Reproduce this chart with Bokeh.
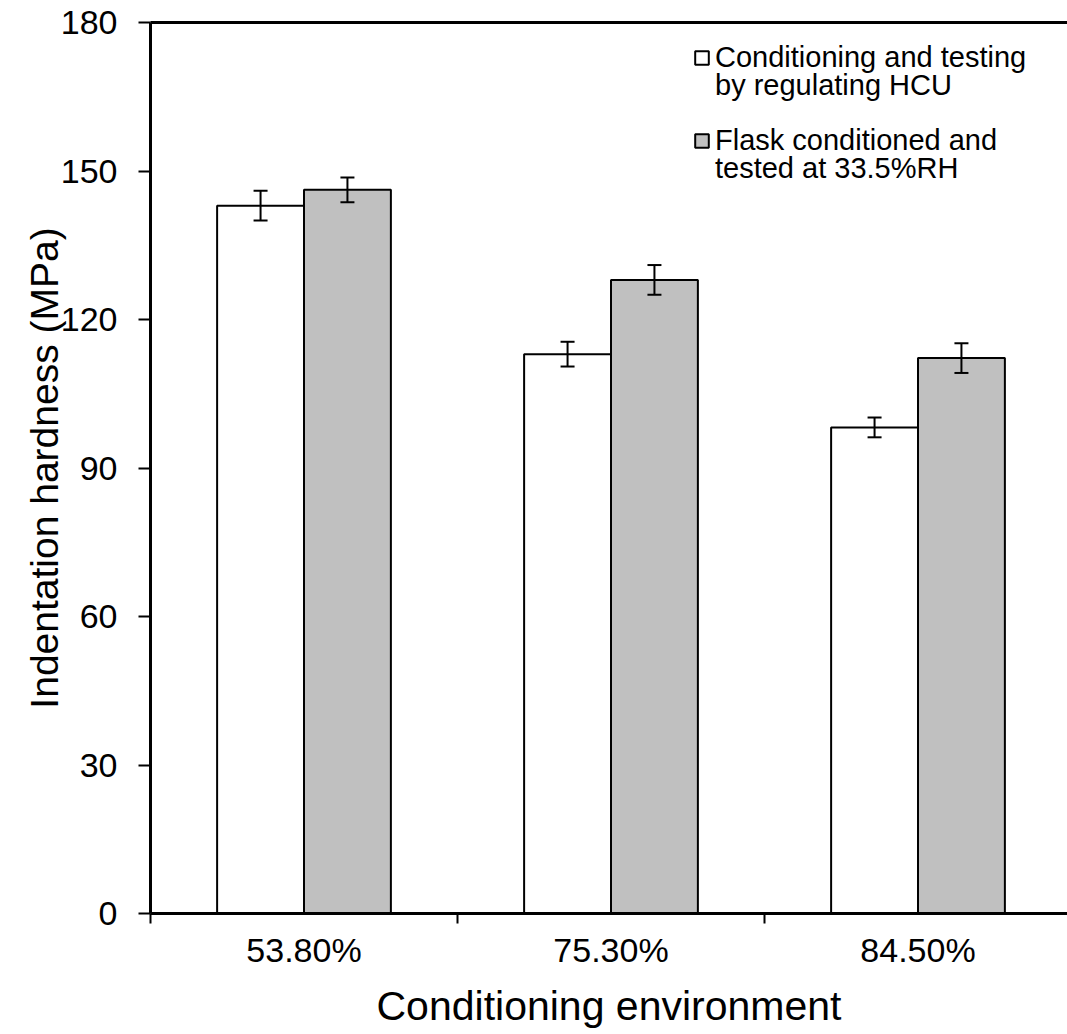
from bokeh.plotting import figure
from bokeh.models import (Range1d, FixedTicker, LinearAxis, Whisker, ColumnDataSource,
                          Legend, LegendItem, TeeHead)
from bokeh.embed import file_html
from bokeh.resources import INLINE

# ---- data ----
categories = ["53.80%", "75.30%", "84.50%"]
hcu_values = [143.0, 113.0, 98.2]
hcu_errors = [3.0, 2.5, 2.0]
flask_values = [146.2, 128.0, 112.2]
flask_errors = [2.5, 3.0, 3.0]
y_ticks = [0, 30, 60, 90, 120, 150, 180]
series_names = [["Conditioning and testing", "by regulating HCU"],
                ["Flask conditioned and", "tested at 33.5%RH"]]
x_title = "Conditioning environment"
y_title = "Indentation hardness (MPa)"

FONT = "Liberation Sans"
BAR_W = 0.283

centers = [i + 0.5 for i in range(len(categories))]
hcu_x = [c - BAR_W / 2 for c in centers]
flask_x = [c + BAR_W / 2 for c in centers]

src_h = ColumnDataSource(dict(x=hcu_x, top=hcu_values,
                              lo=[v - e for v, e in zip(hcu_values, hcu_errors)],
                              hi=[v + e for v, e in zip(hcu_values, hcu_errors)]))
src_f = ColumnDataSource(dict(x=flask_x, top=flask_values,
                              lo=[v - e for v, e in zip(flask_values, flask_errors)],
                              hi=[v + e for v, e in zip(flask_values, flask_errors)]))

p = figure(width=1067, height=1034, output_backend="svg", toolbar_location=None,
           x_range=Range1d(0, 917 / 307), y_range=Range1d(0, 180),
           x_axis_type=None, y_axis_type=None,
           min_border_left=150, min_border_right=0, min_border_top=22, min_border_bottom=121)
p.outline_line_color = None
p.xgrid.visible = False
p.ygrid.visible = False

r_h = p.vbar(x="x", top="top", bottom=0, width=BAR_W, source=src_h,
             fill_color="white", line_color="black", line_width=2)
r_f = p.vbar(x="x", top="top", bottom=0, width=BAR_W, source=src_f,
             fill_color="#c0c0c0", line_color="black", line_width=2)
# invisible renderer used for the continuation lines of the legend labels
r_blank = p.vbar(x=[], top=[], width=BAR_W, fill_alpha=0, line_alpha=0)

for src in (src_h, src_f):
    w = Whisker(source=src, base="x", lower="lo", upper="hi", line_color="black", line_width=2,
                upper_head=TeeHead(size=14, line_width=2, line_color="black"),
                lower_head=TeeHead(size=14, line_width=2, line_color="black"),
                level="overlay")
    p.add_layout(w)

# y axis
yax = LinearAxis(ticker=FixedTicker(ticks=y_ticks, minor_ticks=[]))
yax.axis_line_width = 3
yax.major_tick_line_width = 2
yax.major_tick_out = 12
yax.major_tick_in = 0
yax.minor_tick_out = 0
yax.major_label_standoff = 21
yax.major_label_text_font = FONT
yax.major_label_text_font_size = "34px"
yax.major_label_text_color = "black"
yax.axis_label = y_title
yax.axis_label_text_font = FONT
yax.axis_label_text_font_size = "39px"
yax.axis_label_text_font_style = "normal"
yax.axis_label_text_color = "black"
yax.axis_label_standoff = -8
p.add_layout(yax, "left")

# x axis
xax = LinearAxis(ticker=FixedTicker(ticks=centers, minor_ticks=list(range(len(categories) + 1))))
xax.major_label_overrides = {c: lab for c, lab in zip(centers, categories)}
xax.axis_line_width = 3
xax.major_tick_out = 0
xax.major_tick_in = 0
xax.minor_tick_out = 10
xax.minor_tick_in = 0
xax.minor_tick_line_width = 2
xax.minor_tick_line_color = "black"
xax.major_label_standoff = 7
xax.major_label_text_font = FONT
xax.major_label_text_font_size = "34px"
xax.major_label_text_color = "black"
xax.axis_label = x_title
xax.axis_label_text_font = FONT
xax.axis_label_text_font_size = "41px"
xax.axis_label_text_font_style = "normal"
xax.axis_label_text_color = "black"
xax.axis_label_standoff = 11
p.add_layout(xax, "below")

# top frame line
top = LinearAxis(ticker=FixedTicker(ticks=[]), major_label_text_font_size="0px")
top.axis_line_width = 3
top.major_tick_out = 0
top.minor_tick_out = 0
p.add_layout(top, "above")

legend_style = dict(padding=0, margin=0, spacing=0,
                    border_line_color=None, background_fill_alpha=0,
                    glyph_width=17, glyph_height=17, label_standoff=5, label_height=17,
                    label_text_font=FONT, label_text_font_size="29px",
                    label_text_color="black")
legend_rows = [(r_h, series_names[0][0], 839), (r_blank, series_names[0][1], 811),
               (r_f, series_names[1][0], 756), (r_blank, series_names[1][1], 728)]
for renderer, text, loc_y in legend_rows:
    lg = Legend(items=[LegendItem(label=text, renderers=[renderer])],
                location=(543, loc_y), **legend_style)
    p.add_layout(lg)

open("out.html", "w").write(file_html(p, INLINE))
